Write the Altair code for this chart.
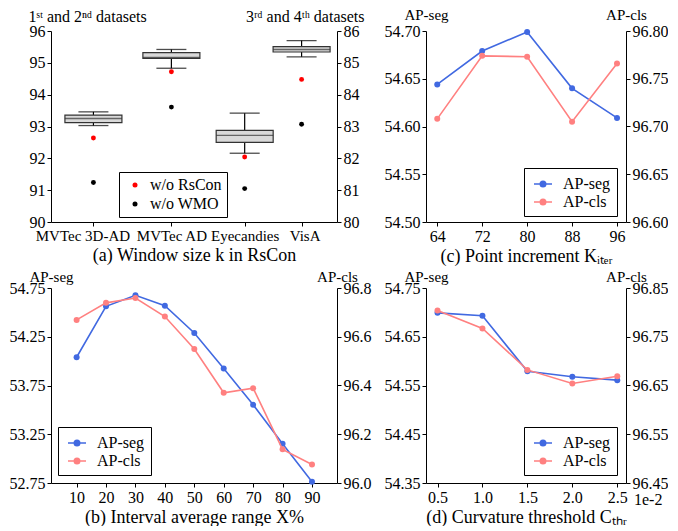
import altair as alt
import pandas as pd

FONT = "Liberation Serif"
BLUE = "#4169e1"
PINK = "#ff8080"

# ---------------- (a) box plots ----------------
datasets = ["MVTec 3D-AD", "MVTec AD", "Eyecandies", "VisA"]
box_pos = [1.0, 2.0, 2.94, 3.67]
box_side = ["left", "left", "right", "right"]
box_lo = [93.03, 94.83, 82.16, 85.19]
box_q1 = [93.12, 95.14, 82.50, 85.34]
box_med = [93.25, 95.17, 82.72, 85.42]
box_q3 = [93.36, 95.32, 82.88, 85.51]
box_hi = [93.46, 95.42, 83.42, 85.70]
wo_rscon = [92.64, 94.72, 82.04, 84.48]
wo_wmo = [91.24, 93.61, 81.05, 83.07]
point_kinds = ["w/o RsCon", "w/o WMO"]
point_colors = ["#ff0000", "#000000"]

# ---------------- (b) interval average range ----------------
b_x = [10, 20, 30, 40, 50, 60, 70, 80, 90]
b_seg = [54.040, 54.562, 54.675, 54.569, 54.289, 53.924, 53.552, 53.153, 52.764]
b_cls = [96.669, 96.739, 96.759, 96.683, 96.550, 96.370, 96.389, 96.138, 96.076]

# ---------------- (c) point increment ----------------
c_x = [64, 72, 80, 88, 96]
c_seg = [54.644, 54.679, 54.699, 54.640, 54.609]
c_cls = [96.708, 96.774, 96.773, 96.705, 96.766]

# ---------------- (d) curvature threshold ----------------
d_x = [0.5, 1.0, 1.5, 2.0, 2.5]
d_seg = [54.699, 54.693, 54.579, 54.568, 54.561]
d_cls = [96.804, 96.767, 96.682, 96.654, 96.669]

series_names = ["AP-seg", "AP-cls"]
series_colors = [BLUE, PINK]

LEG_PATH = "M-1,0L1,0M0.3,0A0.3,0.3,0,1,1,-0.3,0A0.3,0.3,0,1,1,0.3,0Z"


def yaxis(orient, title, values, fmt, title_y, align="center", title_x=0, title_size=15):
    return alt.Axis(orient=orient, title=title, values=values, format=fmt,
                    titleAngle=0, titleAlign=align, titleBaseline="alphabetic",
                    titleX=title_x, titleY=title_y, titleFontSize=title_size)


def line_legend(lx, ly):
    return alt.Legend(title=None, orient="none", legendX=lx, legendY=ly,
                      symbolType=LEG_PATH, symbolSize=324, symbolStrokeWidth=1.6,
                      symbolOffset=3, labelOffset=10, padding=6, rowPadding=0,
                      strokeColor="black", fillColor="white", cornerRadius=0,
                      labelFont=FONT, labelFontSize=16, labelColor="black")


def line_panel(xs, seg, cls, X, seg_scale, seg_axis, cls_scale, cls_axis, legend, w, h, extra=None):
    cscale = alt.Scale(domain=series_names, range=series_colors)

    def series(vals, name, yscale, yax):
        df = pd.DataFrame({"x": xs, "v": vals, "s": name})
        Y = alt.Y("v:Q", scale=yscale, axis=yax)
        line = alt.Chart(df).mark_line(strokeWidth=1.6).encode(
            x=X, y=Y, stroke=alt.Stroke("s:N", scale=cscale, legend=legend))
        pts = alt.Chart(df).mark_circle(size=36, opacity=1).encode(
            x=X, y=Y, fill=alt.Fill("s:N", scale=cscale, legend=legend))
        return alt.layer(line, pts)

    layers = [series(seg, "AP-seg", seg_scale, seg_axis),
              series(cls, "AP-cls", cls_scale, cls_axis)]
    if extra is not None:
        layers.append(extra)
    return alt.layer(*layers).resolve_scale(y="independent").properties(width=w, height=h)


# ----- panel (a)
box_df = pd.DataFrame({"pos": box_pos, "side": box_side, "lo": box_lo, "q1": box_q1,
                       "med": box_med, "q3": box_q3, "hi": box_hi})
pts_rows = []
for i in range(len(datasets)):
    pts_rows.append({"pos": box_pos[i], "side": box_side[i], "val": wo_rscon[i], "kind": point_kinds[0]})
    pts_rows.append({"pos": box_pos[i], "side": box_side[i], "val": wo_wmo[i], "kind": point_kinds[1]})
pts_df = pd.DataFrame(pts_rows)

label_expr = ""
for p, n in zip(box_pos[:-1], datasets[:-1]):
    label_expr += f"datum.value == {p} ? '{n}' : "
label_expr += f"'{datasets[-1]}'"

XA = alt.X("pos:Q", scale=alt.Scale(domain=[0.52, 4.06], nice=False, zero=False),
           axis=alt.Axis(values=box_pos, labelExpr=label_expr, labelOverlap=False,
                         labelFlush=False, labelFontSize=15,
                         labelOffset={"condition": [{"test": f"datum.value == {box_pos[0]}", "value": -11},
                                                    {"test": f"datum.value == {box_pos[3]}", "value": 3}],
                                      "value": 0},
                         title="(a) Window size k in RsCon"))

a_legend = alt.Legend(title=None, orient="none", legendX=68, legendY=141,
                      symbolType="circle", symbolSize=25, symbolOffset=3, labelOffset=7,
                      padding=5, rowPadding=3, strokeColor="black", fillColor="white",
                      cornerRadius=0, labelFont=FONT, labelFontSize=16, labelColor="black")
pcolor = alt.Scale(domain=point_kinds, range=point_colors)


def box_side_layer(side, yscale, yax):
    bd = box_df[box_df.side == side]
    pdf = pts_df[pts_df.side == side]

    def Y(f):
        return alt.Y(f, type="quantitative", scale=yscale, axis=yax)

    rule = alt.Chart(bd).mark_rule(color="black", strokeWidth=1.2).encode(x=XA, y=Y("lo"), y2="hi")
    box = alt.Chart(bd).mark_bar(size=57, fill="#d9d9d9", stroke="#333333", strokeWidth=1.2).encode(
        x=XA, y=Y("q1"), y2="q3")
    med = alt.Chart(bd).mark_tick(orient="horizontal", size=57, thickness=1.4, color="#333333").encode(
        x=XA, y=Y("med"))
    cap_lo = alt.Chart(bd).mark_tick(orient="horizontal", size=30, thickness=1.3, color="black").encode(
        x=XA, y=Y("lo"))
    cap_hi = alt.Chart(bd).mark_tick(orient="horizontal", size=30, thickness=1.3, color="black").encode(
        x=XA, y=Y("hi"))
    pts = alt.Chart(pdf).mark_circle(size=24, opacity=1).encode(
        x=XA, y=Y("val"), color=alt.Color("kind:N", scale=pcolor, legend=a_legend))
    return alt.layer(rule, box, med, cap_lo, cap_hi, pts)


a_left = box_side_layer("left", alt.Scale(domain=[90, 96], nice=False, zero=False),
                        yaxis("left", "1ˢᵗ and 2ⁿᵈ datasets", [90, 91, 92, 93, 94, 95, 96], "d",
                              -10, align="left", title_x=-23, title_size=16))
a_right = box_side_layer("right", alt.Scale(domain=[80, 86], nice=False, zero=False),
                         yaxis("right", "3ʳᵈ and 4ᵗʰ datasets", [80, 81, 82, 83, 84, 85, 86], "d",
                               -10, align="right", title_x=27, title_size=16))
panel_a = alt.layer(a_left, a_right).resolve_scale(y="independent").properties(width=286, height=191)

# ----- panel (b)
XB = alt.X("x:Q", scale=alt.Scale(domain=[1.3, 98.5], nice=False, zero=False),
           axis=alt.Axis(values=b_x, format="d", labelFlush=False, title="(b) Interval average range X%"))
panel_b = line_panel(
    b_x, b_seg, b_cls, XB,
    alt.Scale(domain=[52.75, 54.75], nice=False, zero=False),
    yaxis("left", "AP-seg", [52.75, 53.25, 53.75, 54.25, 54.75], ".2f", -7),
    alt.Scale(domain=[96.0, 96.8], nice=False, zero=False),
    yaxis("right", "AP-cls", [96.0, 96.2, 96.4, 96.6, 96.8], ".1f", -7),
    line_legend(7, 139), 286, 195)

# ----- panel (c)
XC = alt.X("x:Q", scale=alt.Scale(domain=[62.0, 97.6], nice=False, zero=False),
           axis=alt.Axis(values=c_x, format="d", labelFlush=False, title="(c) Point increment Kᵢₜₑᵣ"))
panel_c = line_panel(
    c_x, c_seg, c_cls, XC,
    alt.Scale(domain=[54.50, 54.70], nice=False, zero=False),
    yaxis("left", "AP-seg", [54.50, 54.55, 54.60, 54.65, 54.70], ".2f", -12),
    alt.Scale(domain=[96.60, 96.80], nice=False, zero=False),
    yaxis("right", "AP-cls", [96.60, 96.65, 96.70, 96.75, 96.80], ".2f", -12),
    line_legend(98, 137), 200, 191)

# ----- panel (d)
XD = alt.X("x:Q", scale=alt.Scale(domain=[0.372, 2.597], nice=False, zero=False),
           axis=alt.Axis(values=d_x, format=".1f", labelFlush=False, title="(d) Curvature threshold Cₜₕᵣ"))
note = alt.Chart(pd.DataFrame({"t": ["1e-2"]})).mark_text(
    align="left", baseline="middle", fontSize=16, font=FONT, color="black").encode(
    text="t:N", x=alt.value(208), y=alt.value(212))
panel_d = line_panel(
    d_x, d_seg, d_cls, XD,
    alt.Scale(domain=[54.35, 54.75], nice=False, zero=False),
    yaxis("left", "AP-seg", [54.35, 54.45, 54.55, 54.65, 54.75], ".2f", -7),
    alt.Scale(domain=[96.45, 96.85], nice=False, zero=False),
    yaxis("right", "AP-cls", [96.45, 96.55, 96.65, 96.75, 96.85], ".2f", -7),
    line_legend(98, 139), 200, 195, extra=note)

chart = alt.concat(
    panel_a, panel_c, panel_b, panel_d,
    columns=2, spacing={"row": 66, "column": 89}, bounds="flush"
).resolve_scale(
    x="independent", y="independent", color="independent", fill="independent", stroke="independent"
).properties(
    padding={"left": 9, "top": 7, "right": 0, "bottom": 0}
).configure(
    font=FONT
).configure_view(
    stroke=None
).configure_axis(
    labelFont=FONT, labelFontSize=16, labelColor="black",
    titleFont=FONT, titleFontSize=18, titleFontWeight="normal", titleColor="black",
    domainColor="black", tickColor="black", domainWidth=1, tickWidth=1,
    tickSize=4, labelPadding=2, titlePadding=3, grid=False
)

chart.save("out.html", embed_options={"renderer": "svg", "actions": False})
